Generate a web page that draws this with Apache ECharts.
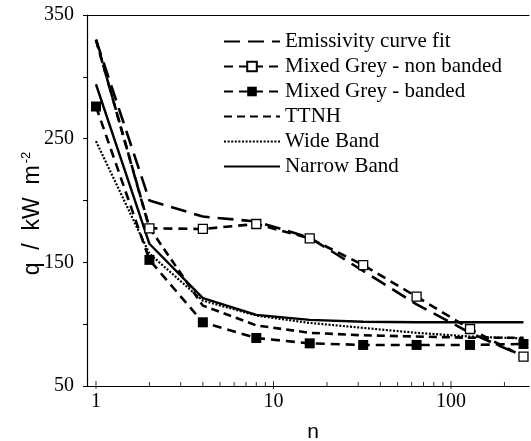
<!DOCTYPE html>
<html>
<head>
<meta charset="utf-8">
<script src="https://cdn.jsdelivr.net/npm/echarts@6/dist/echarts.min.js"></script>
<style>
html,body{margin:0;padding:0;background:#fff;}
#c{width:531px;height:441px;}
</style>
</head>
<body>
<div id="c"></div>
<script>
// ---- data ----
const nValues = [1, 2, 4, 8, 16, 32, 64, 128, 256];
const emissivityFit = [330, 200, 187, 183, 170, 143, 116, 93, 74];
const mixedGreyNonBanded = [330, 177.5, 177, 181, 169.4, 147.8, 122.2, 96.1, 73.7];
const mixedGreyBanded = [276, 152, 101.5, 88.8, 84.5, 83.2, 83.2, 83.2, 84];
const ttnh = [330, 178, 115, 99, 93, 91, 90, 89, 89];
const wideBand = [248, 157, 119, 107, 101, 97, 93, 90, 88.5];
const narrowBand = [294, 165, 121, 107.5, 103.5, 102, 101.5, 101.5, 101.5];
const seriesNames = ['Emissivity curve fit', 'Mixed Grey - non banded', 'Mixed Grey - banded', 'TTNH', 'Wide Band', 'Narrow Band'];
const yTicks = [50, 150, 250, 350];
const xMajorTicks = [1, 10, 100];
const xMinorTicks = [2, 3, 4, 5, 6, 7, 8, 9, 20, 30, 40, 50, 60, 70, 80, 90, 200];

const pairs = vals => nValues.map((n, i) => [n, vals[i]]);
const serif = 'Liberation Serif';
const sans = 'Liberation Sans';

const chart = echarts.init(document.getElementById('c'), null, {renderer: 'canvas'});
const lineBase = (name, vals, dash, width, extra) => Object.assign({
  name: name, type: 'line', data: pairs(vals), symbol: 'none',
  lineStyle: {color: '#000', width: width, type: dash, cap: 'butt'},
  itemStyle: {color: '#000'}, animation: false, z: 3
}, extra || {});

const nonBandedData = pairs(mixedGreyNonBanded).map((p, i) => i === 0 ? {value: p, symbol: 'none'} : p);
const withMarkers = [seriesNames[1], seriesNames[2]];

chart.setOption({
  backgroundColor: '#fff',
  animation: false,
  grid: {left: 87, right: 2, top: 15, bottom: 55, containLabel: false, outerBoundsMode: 'none'},
  legend: {
    orient: 'vertical', left: 223, top: 31, padding: 0,
    itemWidth: 56, itemHeight: 12, itemGap: 4,
    textStyle: {fontFamily: serif, fontSize: 21, lineHeight: 21, color: '#000'},
    data: seriesNames.map(n => withMarkers.indexOf(n) >= 0 ? {name: n} : {name: n, itemStyle: {opacity: 0}})
  },
  xAxis: [{
    type: 'log', logBase: 10, min: 0.89, max: 275,
    axisLine: {show: true, lineStyle: {color: '#000', width: 1.2}},
    axisTick: {show: false},
    splitLine: {show: false},
    axisLabel: {
      color: '#000', fontFamily: serif, fontSize: 20, margin: 6,
      showMinLabel: false, showMaxLabel: false,
      formatter: function (v) {
        const l = Math.log10(v);
        return Math.abs(l - Math.round(l)) < 1e-6 && xMajorTicks.indexOf(Math.round(v)) >= 0 ? String(Math.round(v)) : '';
      }
    },
    name: 'n', nameLocation: 'middle', nameGap: 36, nameMoveOverlap: false,
    nameTextStyle: {color: '#000', fontFamily: sans, fontSize: 21, padding: [0, 0, 0, 10]}
  }, {
    type: 'log', logBase: 10, min: 0.89, max: 275, position: 'top',
    axisLine: {show: true, lineStyle: {color: '#000', width: 1}},
    axisTick: {show: false}, axisLabel: {show: false}, splitLine: {show: false}
  }],
  yAxis: {
    type: 'value', min: 50, max: 350, interval: 50,
    axisLine: {show: true, lineStyle: {color: '#000', width: 1.2}},
    axisTick: {show: true, length: 4, lineStyle: {color: '#000'}},
    splitLine: {show: false},
    axisLabel: {
      color: '#000', fontFamily: serif, fontSize: 20, margin: 13,
      formatter: v => yTicks.indexOf(v) >= 0 ? String(v) : ''
    },
    name: 'q  /  kW  m{sup|-2}', nameLocation: 'middle', nameGap: 41, nameMoveOverlap: false,
    nameTextStyle: {
      color: '#000', fontFamily: sans, fontSize: 23, lineHeight: 26, padding: [0, 26, 0, 0],
      rich: {sup: {fontFamily: sans, fontSize: 13, verticalAlign: 'top', lineHeight: 26, padding: [0, 0, 10, 2]}}
    }
  },
  series: [
    lineBase(seriesNames[0], emissivityFit, [16, 8], 2.6),
    Object.assign(lineBase(seriesNames[1], mixedGreyNonBanded, [9, 6], 2.6), {
      data: nonBandedData, symbol: 'rect', symbolSize: 9,
      itemStyle: {color: '#fff', borderColor: '#000', borderWidth: 1.3}
    }),
    lineBase(seriesNames[2], mixedGreyBanded, [9, 6], 2.6, {symbol: 'rect', symbolSize: 10, itemStyle: {color: '#000'}}),
    lineBase(seriesNames[3], ttnh, [8, 5], 2.6),
    lineBase(seriesNames[4], wideBand, [2, 1.6], 2.2),
    lineBase(seriesNames[5], narrowBand, 'solid', 2.4),
    {
      name: 'xMinorTicks', type: 'scatter', silent: true, clip: false, animation: false,
      data: xMinorTicks.map(v => [v, 50]), symbol: 'rect', symbolSize: [1, 4], symbolOffset: [0, -2],
      itemStyle: {color: '#000'}, z: 1
    },
    {
      name: 'xMajorTicks', type: 'scatter', silent: true, clip: false, animation: false,
      data: xMajorTicks.map(v => [v, 50]), symbol: 'rect', symbolSize: [1, 8], symbolOffset: [0, -1],
      itemStyle: {color: '#000'}, z: 1
    }
  ]
});
</script>
</body>
</html>
